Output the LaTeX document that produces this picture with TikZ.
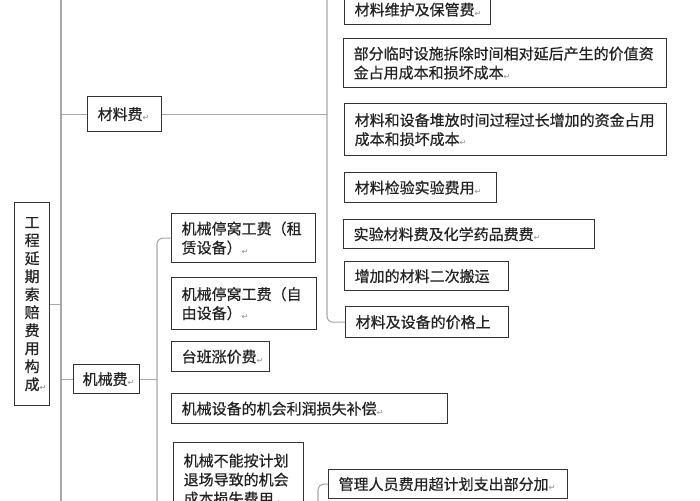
\documentclass[tikz,border=0pt]{standalone}
\usepackage{fontspec}
\newfontfamily\cjk[FakeBold=0.5]{Noto Sans CJK SC}
\newfontfamily\dvs{DejaVu Sans}
\definecolor{boxc}{HTML}{333333}
\definecolor{linkc}{HTML}{A8A8A8}
\definecolor{txt}{HTML}{222222}
\definecolor{retc}{HTML}{8A8A8A}
\newcommand{\rmk}{{\dvs\fontsize{8}{8}\selectfont\color{retc}\raisebox{-1pt}{↵}}}
\begin{document}
\begin{tikzpicture}[x=1pt,y=-1pt,
  box/.style={draw=boxc, line width=1.3pt, anchor=north west, inner xsep=10pt, inner ysep=0pt,
    align=left, text=txt, font=\cjk\fontsize{15}{19}\selectfont},
  link/.style={draw=linkc, line width=1.1pt}]
\useasboundingbox (0,0) rectangle (700,500);
\fill[white] (0,0) rectangle (700,500);
\clip (0,0) rectangle (700,500);

% trunk coordinates
\coordinate (trunkTop) at (61,-10);
\coordinate (trunkBot) at (61,510);
\coordinate (matBrTop) at (327,-10);
\coordinate (mechBrBot) at (157,510);
\coordinate (mgmtBrBot) at (318,510);

% root
\node[box, anchor=north west, minimum width=35pt, minimum height=203pt, inner xsep=0pt, text width=35pt, align=center,
  font=\cjk\fontsize{15}{18}\selectfont] (root) at (14,202)
  {工\\程\\延\\期\\索\\赔\\费\\用\\构\\成\rlap{\rmk}};

% level 1
\node[box, text width=54pt, minimum height=35pt] (mat) at (87,96) {材料费\rmk};
\node[box, text width=48pt, minimum height=29pt, inner xsep=9pt] (mech) at (73,364) {机械费\rmk};

% material children
\node[box, text width=126pt, minimum height=30pt] (m1) at (344,-6) {材料维护及保管费\rmk};
\node[box, text width=303pt, minimum height=49pt] (m2) at (343,38) {部分临时设施拆除时间相对延后产生的价值资\\金占用成本和损坏成本\rmk};
\node[box, text width=302pt, minimum height=52pt] (m3) at (344,103) {材料和设备堆放时间过程过长增加的资金占用\\成本和损坏成本\rmk};
\node[box, text width=132pt, minimum height=30pt] (m4) at (344,172) {材料检验实验费用\rmk};
\node[box, text width=231pt, minimum height=29pt] (m5) at (343,219) {实验材料费及化学药品费费\rmk};
\node[box, text width=144pt, minimum height=29pt] (m6) at (344,261) {增加的材料二次搬运};
\node[box, text width=143pt, minimum height=31pt] (m7) at (345,306) {材料及设备的价格上};

% mechanical children
\node[box, text width=124pt, minimum height=49pt] (k1) at (171,213) {机械停窝工费（租\\赁设备）\rmk};
\node[box, text width=125pt, minimum height=52pt] (k2) at (171,277) {机械停窝工费（自\\由设备）\rmk};
\node[box, text width=78pt, minimum height=30pt] (k3) at (171,341) {台班涨价费\rmk};
\node[box, text width=256pt, minimum height=30pt] (k4) at (171,393) {机械设备的机会利润损失补偿\rmk};
\node[box, text width=110pt, minimum height=74pt] (k5) at (173,442) {机械不能按计划\\退场导致的机会\\成本损失费用\rmk};
\node[box, text width=219pt, minimum height=29pt] (g1) at (328,469) {管理人员费用超计划支出部分加\rmk};

% connectors
\draw[link] (trunkTop) -- (trunkBot);
\draw[link] (root.east) -- (root.east -| trunkTop);
\draw[link] (mat.west -| trunkTop) -- (mat.west);
\draw[link] (mech.west -| trunkTop) -- (mech.west);
\draw[link] (mat.east) -- (mat.east -| matBrTop);
\draw[link, rounded corners=6pt] (matBrTop) |- (m7.west);
\draw[link] (mech.east) -- (mech.east -| mechBrBot);
\draw[link, rounded corners=6pt] (k1.west) -| (mechBrBot);
\draw[link, rounded corners=6pt] (g1.west) -| (mgmtBrBot);
\end{tikzpicture}
\end{document}
